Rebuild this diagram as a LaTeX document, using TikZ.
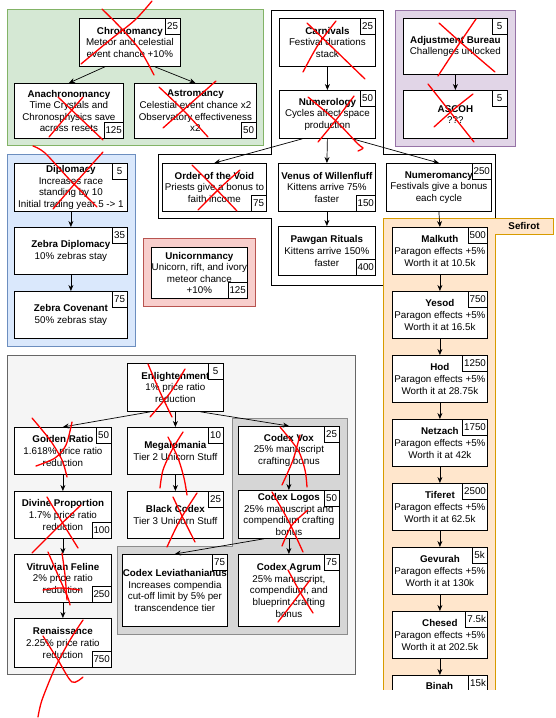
\documentclass[tikz,border=0pt]{standalone}
\usepackage{fontspec}
\setmainfont{Liberation Sans}
\usetikzlibrary{arrows.meta}
\definecolor{gfill}{HTML}{D5E8D4}\definecolor{gline}{HTML}{82B366}
\definecolor{pfill}{HTML}{E1D5E7}\definecolor{pline}{HTML}{9673A6}
\definecolor{bfill}{HTML}{DAE8FC}\definecolor{bline}{HTML}{6C8EBF}
\definecolor{rfill}{HTML}{F8CECC}\definecolor{rline}{HTML}{B85450}
\definecolor{ofill}{HTML}{FFE6CC}\definecolor{oline}{HTML}{D79B00}
\definecolor{lgfill}{HTML}{F5F5F5}\definecolor{lgline}{HTML}{666666}
\definecolor{mgfill}{HTML}{D6D6D6}\definecolor{mgline}{HTML}{8C8C8C}
\definecolor{xred}{HTML}{FF0000}
\newcommand\crd[6]{\node[card, minimum width={#4-#2}, minimum height={#5-#3}] (#1) at (#2,#3) {#6};}
\newcommand\costNE[3]{\node[cost, anchor=north east] (#1) at (#2.north east) {#3};}
\newcommand\costSE[3]{\node[cost, anchor=south east] (#1) at (#2.south east) {#3};}
\begin{document}
\begin{tikzpicture}[x=1pt,y=-1pt,
  font=\fontsize{9.8}{11.6}\selectfont,
  card/.style={draw=black, fill=white, line width=0.8pt, align=center, inner sep=0pt, anchor=north west},
  cost/.style={draw=black, fill=white, line width=0.8pt, inner xsep=1.5pt, inner ysep=0pt, minimum width=15.5pt, minimum height=16pt},
  flow/.style={-{Stealth[length=6pt,width=5pt]}, line width=0.7pt},
  cross/.style={draw=xred, line width=1.3pt, line cap=round, line join=round},
  zone/.style={line width=0.8pt}]
\useasboundingbox (0,0) rectangle (555,718);

% containers
\draw[zone, draw=gline, fill=gfill] (7,9) rectangle (263,145);
\draw[zone, draw=pline, fill=pfill] (395,10) rectangle (515,146);
\draw[zone, draw=black, fill=white] (271,10) -- (383,10) -- (383,154) -- (495,154) -- (495,218) -- (383,218) -- (383,285) -- (271,285) -- (271,218) -- (158,218) -- (158,154) -- (271,154) -- cycle;
\draw[zone, draw=bline, fill=bfill] (7,154) rectangle (135,346);
\draw[zone, draw=rline, fill=rfill] (143,238) rectangle (255,306);
\draw[zone, draw=lgline, fill=lgfill] (7,355) rectangle (355,674);
\draw[zone, draw=mgline, fill=mgfill] (232,418) -- (347,418) -- (347,634) -- (117,634) -- (117,546) -- (232,546) -- cycle;
\begin{scope}
\clip (0,0) rectangle (555,689);
\fill[ofill] (383,218) -- (553,218) -- (553,234) -- (495,234) -- (495,695) -- (383,695) -- cycle;
\draw[zone, draw=oline] (383,695) -- (383,218) -- (553,218) -- (553,234) -- (495,234) -- (495,695);
\node[card, minimum width=95, minimum height=47] (binah) at (392,675) {};
\node[cost, anchor=north east] (c-binah) at (binah.north east) {15k};
\end{scope}
\node[font=\fontsize{9.8}{11.6}\selectfont\bfseries] (sefirot) at (524,226) {Sefirot};
\node[font=\fontsize{9.8}{11.6}\selectfont\bfseries] (binahT) at (439.5,686) {Binah};

% cards
\crd{chrono}{79}{18}{180}{66}{\textbf{Chronomancy}\\Meteor and celestial\\event chance +10\%}
\crd{anachro}{14}{83}{123}{138}{\textbf{Anachronomancy}\\Time Crystals and\\Chronosphysics save\\across resets}
\crd{astro}{134}{83}{256}{138}{\textbf{Astromancy}\\Celestial event chance x2\\Observatory effectiveness\\x2}
\crd{carn}{279}{18}{375}{66}{\textbf{Carnivals}\\Festival durations\\stack}
\crd{numer}{279}{90}{375}{138}{\textbf{Numerology}\\Cycles affect space\\production}
\crd{adj}{403}{18}{507}{74}{\textbf{Adjustment Bureau}\\Challenges unlocked}
\crd{ascoh}{403}{90}{507}{138}{\textbf{ASCOH}\\???}
\crd{diplo}{14}{163}{127}{211}{\textbf{Diplomacy}\\Increases race\\standing by 10\\Initial trading year 5 -> 1}
\crd{zdip}{14}{227}{127}{274}{\textbf{Zebra Diplomacy}\\10\% zebras stay}
\crd{zcov}{14}{291}{127}{338}{\textbf{Zebra Covenant}\\50\% zebras stay}
\crd{unic}{151}{247}{247}{298}{\textbf{Unicornmancy}\\Unicorn, rift, and ivory\\meteor chance\\+10\%}
\crd{order}{162}{163}{266}{211}{\textbf{Order of the Void}\\Priests give a bonus to\\faith income}
\crd{venus}{278}{163}{375}{211}{\textbf{Venus of Willenfluff}\\Kittens arrive 75\%\\faster}
\crd{numero}{386}{163}{491}{211}{\textbf{Numeromancy}\\Festivals give a bonus\\each cycle}
\crd{pawgan}{278}{226}{375}{275}{\textbf{Pawgan Rituals}\\Kittens arrive 150\%\\faster}
\crd{enl}{127}{363}{223}{411}{\textbf{Enlightenment}\\1\% price ratio\\reduction}
\crd{golden}{14}{427}{111}{474}{\textbf{Golden Ratio}\\1.618\% price ratio\\reduction}
\crd{mega}{127}{427}{223}{474}{\textbf{Megalomania}\\Tier 2 Unicorn Stuff}
\crd{divine}{14}{491}{111}{538}{\textbf{Divine Proportion}\\1.7\% price ratio\\reduction}
\crd{black}{127}{491}{223}{538}{\textbf{Black Codex}\\Tier 3 Unicorn Stuff}
\crd{vitru}{14}{554}{111}{602}{\textbf{Vitruvian Feline}\\2\% price ratio\\reduction}
\crd{renai}{14}{618}{111}{667}{\textbf{Renaissance}\\2.25\% price ratio\\reduction}
\crd{vox}{238}{426}{339}{474}{\textbf{Codex Vox}\\25\% manuscript\\crafting bonus}
\crd{logos}{238}{490}{339}{538}{\textbf{Codex Logos}\\25\% manuscript and\\compendium crafting\\bonus}
\crd{agrum}{238}{554}{339}{626}{\textbf{Codex Agrum}\\25\% manuscript,\\compendium, and\\blueprint crafting\\bonus}
\crd{levi}{122}{554}{227}{626}{\textbf{Codex Leviathanianus}\\Increases compendia\\cut-off limit by 5\% per\\transcendence tier}
\crd{malkuth}{392}{227}{487}{274}{\textbf{Malkuth}\\Paragon effects +5\%\\Worth it at 10.5k}
\crd{yesod}{392}{291}{487}{338}{\textbf{Yesod}\\Paragon effects +5\%\\Worth it at 16.5k}
\crd{hod}{392}{355}{487}{402}{\textbf{Hod}\\Paragon effects +5\%\\Worth it at 28.75k}
\crd{netzach}{392}{419}{487}{466}{\textbf{Netzach}\\Paragon effects +5\%\\Worth it at 42k}
\crd{tiferet}{392}{483}{487}{530}{\textbf{Tiferet}\\Paragon effects +5\%\\Worth it at 62.5k}
\crd{gevurah}{392}{547}{487}{594}{\textbf{Gevurah}\\Paragon effects +5\%\\Worth it at 130k}
\crd{chesed}{392}{611}{487}{658}{\textbf{Chesed}\\Paragon effects +5\%\\Worth it at 202.5k}

% costs
\costNE{c-chrono}{chrono}{25}
\costSE{c-anachro}{anachro}{125}
\costSE{c-astro}{astro}{50}
\costNE{c-carn}{carn}{25}
\costNE{c-numer}{numer}{50}
\costNE{c-adj}{adj}{5}
\costNE{c-ascoh}{ascoh}{5}
\costNE{c-diplo}{diplo}{5}
\costNE{c-zdip}{zdip}{35}
\costNE{c-zcov}{zcov}{75}
\costSE{c-unic}{unic}{125}
\costSE{c-order}{order}{75}
\costSE{c-venus}{venus}{150}
\costNE{c-numero}{numero}{250}
\costSE{c-pawgan}{pawgan}{400}
\costNE{c-enl}{enl}{5}
\costNE{c-golden}{golden}{50}
\costNE{c-mega}{mega}{10}
\costSE{c-divine}{divine}{100}
\costNE{c-black}{black}{25}
\costSE{c-vitru}{vitru}{250}
\costSE{c-renai}{renai}{750}
\costNE{c-vox}{vox}{25}
\costNE{c-logos}{logos}{50}
\costNE{c-agrum}{agrum}{75}
\costNE{c-levi}{levi}{75}
\costNE{c-malkuth}{malkuth}{500}
\costNE{c-yesod}{yesod}{750}
\costNE{c-hod}{hod}{1250}
\costNE{c-netzach}{netzach}{1750}
\costNE{c-tiferet}{tiferet}{2500}
\costNE{c-gevurah}{gevurah}{5k}
\costNE{c-chesed}{chesed}{7.5k}

% connectors
\draw[flow] ([xshift=-25pt]chrono.south) -- (anachro.north);
\draw[flow] ([xshift=25pt]chrono.south) -- (astro.north);
\draw[flow] (carn) -- (numer);
\draw[flow] (adj) -- (ascoh);
\draw[flow] ([xshift=-25pt]numer.south) -- (order.north);
\draw[flow] (numer.south) -- (venus.north);
\draw[flow] ([xshift=25pt]numer.south) -- (numero.north);
\draw[flow] (venus) -- (pawgan);
\draw[flow] (numero.south) -- (malkuth.north);
\draw[flow] (diplo) -- (zdip);
\draw[flow] (zdip) -- (zcov);
\draw[flow] ([xshift=-25pt]enl.south) -- (golden.north);
\draw[flow] (enl) -- (mega);
\draw[flow] ([xshift=25pt]enl.south) -- (vox.north);
\draw[flow] (golden) -- (divine);
\draw[flow] (divine) -- (vitru);
\draw[flow] (vitru) -- (renai);
\draw[flow] (mega) -- (black);
\draw[flow] (vox) -- (logos);
\draw[flow] (logos) -- (agrum);
\draw[flow] ([xshift=-25pt]logos.south) -- (levi.north);
\draw[flow] (malkuth) -- (yesod);
\draw[flow] (yesod) -- (hod);
\draw[flow] (hod) -- (netzach);
\draw[flow] (netzach) -- (tiferet);
\draw[flow] (tiferet) -- (gevurah);
\draw[flow] (gevurah) -- (chesed);
\draw[flow] (chesed.south) -- (binah.north);

% red crossings
\draw[cross] plot[smooth] coordinates {(102,9) (120,27) (140,50) (154,75)};
\draw[cross] plot[smooth] coordinates {(81,64) (110,40) (135,20) (152,1)};
\draw[cross] plot[smooth] coordinates {(49,137) (65,118) (83,97)};
\draw[cross] plot[smooth] coordinates {(58,97) (80,118) (103,140)};
\draw[cross] plot[smooth] coordinates {(159,87) (185,112) (208,137)};
\draw[cross] plot[smooth] coordinates {(163,128) (190,104) (216,81)};
\draw[cross] plot[smooth] coordinates {(307,23) (335,50) (365,79)};
\draw[cross] plot[smooth] coordinates {(303,72) (318,45) (336,21)};
\draw[cross] plot[smooth] coordinates {(308,97) (335,120) (358,144) (363,148) (358,151)};
\draw[cross] plot[smooth] coordinates {(318,142) (336,120) (354,96)};
\draw[cross] plot[smooth] coordinates {(439,23) (467,48) (495,72)};
\draw[cross] plot[smooth] coordinates {(438,76) (457,47) (476,19)};
\draw[cross] plot[smooth] coordinates {(428,84) (451,113) (474,142)};
\draw[cross] plot[smooth] coordinates {(434,127) (453,110) (473,94)};
\draw[cross] plot[smooth] coordinates {(33,146) (45,153) (70,180) (97,207)};
\draw[cross] plot[smooth] coordinates {(53,209) (78,180) (103,152)};
\draw[cross] plot[smooth] coordinates {(192,165) (215,188) (237,211)};
\draw[cross] plot[smooth] coordinates {(198,210) (220,188) (240,170)};
\draw[cross] plot[smooth] coordinates {(148,364) (160,392) (172,417)};
\draw[cross] plot[smooth] coordinates {(150,417) (170,393) (185,369)};
\draw[cross] plot[smooth] coordinates {(32,418) (50,440) (62,460) (67,477)};
\draw[cross] plot[smooth] coordinates {(36,466) (55,458) (66,445) (72,422)};
\draw[cross] plot[smooth] coordinates {(47,497) (62,522) (78,548)};
\draw[cross] plot[smooth] coordinates {(81,505) (55,530) (32,553)};
\draw[cross] plot[smooth] coordinates {(48,552) (58,575) (68,598) (70,605)};
\draw[cross] plot[smooth] coordinates {(43,590) (60,588) (80,590)};
\draw[cross] plot[smooth] coordinates {(62,553) (65,575) (67,600)};
\draw[cross] plot[smooth] coordinates {(38,717) (42,700) (55,668) (70,640) (83,620)};
\draw[cross] plot[smooth] coordinates {(43,636) (58,660) (72,682) (83,677)};
\draw[cross] plot[smooth] coordinates {(160,488) (163,470) (172,450) (183,432)};
\draw[cross] plot[smooth] coordinates {(168,437) (178,458) (184,478) (187,495)};
\draw[cross] plot[smooth] coordinates {(167,547) (180,520) (197,493)};
\draw[cross] plot[smooth] coordinates {(173,497) (183,518) (195,542)};
\draw[cross] plot[smooth] coordinates {(280,427) (298,450) (305,470) (307,487)};
\draw[cross] plot[smooth] coordinates {(282,485) (293,460) (300,435)};
\draw[cross] plot[smooth] coordinates {(272,492) (288,520) (303,552)};
\draw[cross] plot[smooth] coordinates {(282,546) (292,525) (308,510)};
\draw[cross] plot[smooth] coordinates {(278,622) (295,600) (310,580)};
\draw[cross] plot[smooth] coordinates {(288,570) (300,592) (313,613)};
\end{tikzpicture}
\end{document}
